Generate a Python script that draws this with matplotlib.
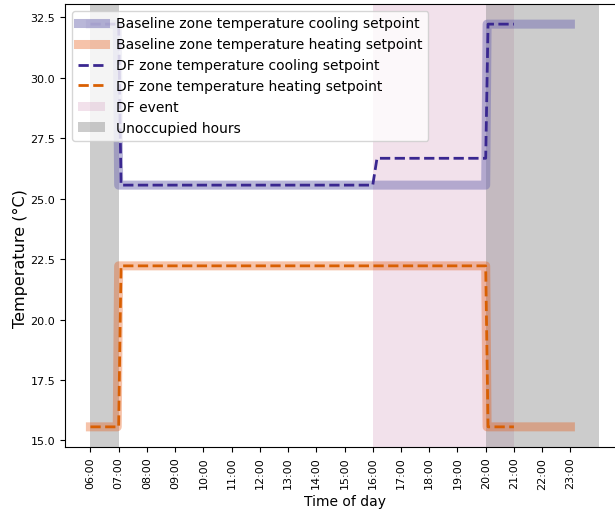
import matplotlib
matplotlib.use("Agg")
import matplotlib.pyplot as plt
from matplotlib.lines import Line2D
from matplotlib.patches import Patch

# setpoint schedules (hour of day, degC)
base_time = [6.0, 6.95, 7.0, 20.0, 20.05, 23.0]
base_cool = [32.22, 32.22, 25.56, 25.56, 32.22, 32.22]
base_heat = [15.56, 15.56, 22.22, 22.22, 15.56, 15.56]

df_time = [6.0, 7.0, 7.0833, 16.0, 16.15, 20.0, 20.0833, 21.0]
df_cool = [32.22, 32.22, 25.56, 25.56, 26.67, 26.67, 32.22, 32.22]
df_heat = [15.56, 15.56, 22.22, 22.22, 22.22, 22.22, 15.56, 15.56]

df_event = (16, 21)
unoccupied = [(6, 7), (20, 24)]

hours = list(range(6, 24))
hour_labels = ["%02d:00" % h for h in hours]

fig = plt.figure(figsize=(6.15, 5.1), dpi=100)
ax = fig.add_axes([0.1057, 0.1216, 0.909, 0.8686])

ax.axvspan(df_event[0], df_event[1], color="#d49ec0", alpha=0.3, lw=0)
for start, end in unoccupied:
    ax.axvspan(start, end, color="gray", alpha=0.4, lw=0)

ax.plot(base_time, base_cool, color="#7570b3", alpha=0.5, lw=6.5)
ax.plot(base_time, base_heat, color="#e6550d", alpha=0.35, lw=6.5)
ax.plot(df_time, df_cool, color="#3a2790", lw=2, ls="--")
ax.plot(df_time, df_heat, color="#d95f02", lw=2, ls="--")

ax.set_xticks(hours)
ax.set_xticklabels(hour_labels, rotation=90)
ax.tick_params(labelsize=8)
ax.set_xlabel("Time of day", fontsize=10)
ax.set_ylabel("Temperature (°C)", fontsize=11.5)
ax.yaxis.set_label_coords(-0.066, 0.427)

handles = [
    Line2D([], [], color="#7570b3", alpha=0.5, lw=6.5),
    Line2D([], [], color="#e6550d", alpha=0.35, lw=6.5),
    Line2D([], [], color="#3a2790", lw=2, ls="--"),
    Line2D([], [], color="#d95f02", lw=2, ls="--"),
    Patch(color="#d49ec0", alpha=0.3, lw=0),
    Patch(color="gray", alpha=0.4, lw=0),
]
labels = [
    "Baseline zone temperature cooling setpoint",
    "Baseline zone temperature heating setpoint",
    "DF zone temperature cooling setpoint",
    "DF zone temperature heating setpoint",
    "DF event",
    "Unoccupied hours",
]
ax.legend(handles, labels, loc="upper left")

fig.savefig("out.png", dpi=100)
